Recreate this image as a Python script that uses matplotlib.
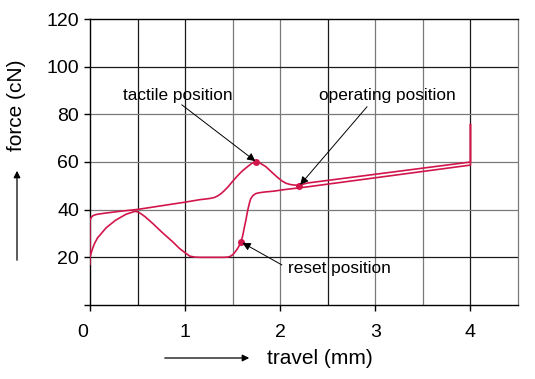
import matplotlib
matplotlib.use('Agg')
import matplotlib.pyplot as plt
from matplotlib.transforms import ScaledTranslation

plt.rcParams['font.family'] = ['Liberation Sans', 'DejaVu Sans']

# press stroke (upper curve), travel in mm / force in cN
press_x = [0.0, 0.0, 0.012, 0.028, 0.05, 0.08, 0.17, 0.31, 0.5, 1.007, 1.155, 1.2, 1.26,
           1.307, 1.34, 1.377, 1.41, 1.447, 1.5, 1.553, 1.6, 1.658, 1.7, 1.746, 1.79,
           1.85, 1.92, 1.97, 2.02, 2.06, 2.1, 2.15, 2.2, 2.29, 4.0, 4.0]
press_y = [17.0, 35.6, 36.7, 37.4, 37.8, 38.1, 38.6, 39.3, 40.1, 43.2, 44.2, 44.4, 44.7,
           45.1, 45.7, 46.7, 47.9, 49.4, 51.9, 54.3, 56.2, 58.1, 59.4, 60.0, 59.5,
           58.0, 55.4, 53.6, 52.0, 51.1, 50.6, 50.3, 50.3, 51.2, 60.0, 75.7]

# release stroke (lower curve)
release_x = [4.0, 4.0, 2.29, 2.02, 1.94, 1.833, 1.78, 1.746, 1.715, 1.69, 1.675, 1.658,
             1.64, 1.62, 1.605, 1.588, 1.57, 1.553, 1.525, 1.5, 1.475, 1.447, 1.40,
             1.155, 1.1, 1.05, 1.007, 0.94, 0.87, 0.76, 0.66, 0.58, 0.55, 0.52, 0.5,
             0.47, 0.45, 0.38, 0.27, 0.17, 0.08, 0.05, 0.028, 0.012, 0.0]
release_y = [75.7, 58.7, 49.6, 48.3, 47.8, 47.4, 47.1, 46.8, 46.0, 44.6, 42.6, 39.7,
             35.8, 32.0, 29.0, 26.5, 25.0, 23.75, 22.2, 21.1, 20.4, 20.1, 20.0,
             20.0, 20.1, 20.5, 21.7, 23.75, 26.5, 30.4, 34.2, 37.0, 37.9, 38.7, 39.1,
             39.3, 39.0, 38.1, 35.6, 32.4, 28.2, 26.0, 23.8, 21.8, 20.0]

# marked points
mark_names = ['tactile position', 'operating position', 'reset position']
mark_x = [1.75, 2.2, 1.59]
mark_y = [60.0, 50.0, 26.4]
text_x = [0.347, 2.41, 2.087]
text_y = [88.1, 87.7, 15.4]
arrow_x = [0.965, 2.913, 2.018]
arrow_y = [84.0, 83.2, 16.8]

xticks = [0, 1, 2, 3, 4]
yticks = [0, 20, 40, 60, 80, 100, 120]
ytick_labels = ['', '20', '40', '60', '80', '100', '120']
dark_vlines = [0.5, 1.0, 2.5, 4.0]
light_vlines = [1.5, 2.0, 3.0, 3.5]
dark_hlines = [20, 100]
light_hlines = [40, 60, 80]

red = '#d2164b'

fig = plt.figure(figsize=(5.35, 3.79), dpi=100)
ax = fig.add_axes([90 / 535, 1 - 305 / 379, 428 / 535, 286 / 379])

for v in dark_vlines:
    ax.axvline(v, color='#1a1a1a', lw=0.9, zorder=1)
for v in light_vlines:
    ax.axvline(v, color='#7a7a7a', lw=0.9, zorder=1)
for h in dark_hlines:
    ax.axhline(h, color='#1a1a1a', lw=0.9, zorder=1)
for h in light_hlines:
    ax.axhline(h, color='#7a7a7a', lw=0.9, zorder=1)

ax.plot(press_x, press_y, color=red, lw=1.2, zorder=3, solid_joinstyle='round')
ax.plot(release_x, release_y, color=red, lw=1.2, zorder=3, solid_joinstyle='round')
ax.plot(mark_x, mark_y, 'o', color=red, ms=4, zorder=4)

for name, mx, my, tx, ty, ax_, ay_ in zip(mark_names, mark_x, mark_y, text_x, text_y,
                                         arrow_x, arrow_y):
    ax.text(tx, ty, name, fontsize=12.4, ha='left', va='center', zorder=5)
    ax.annotate('', xy=(mx, my), xytext=(ax_, ay_),
                arrowprops=dict(arrowstyle='-|>', color='black', lw=0.7,
                                mutation_scale=12, shrinkA=0, shrinkB=1),
                zorder=5)

ax.set_xlim(0, 4.5)
ax.set_ylim(0, 120)
ax.set_xticks(xticks)
ax.set_yticks(yticks)
ax.set_yticklabels(ytick_labels)
ax.tick_params(axis='x', direction='out', length=4, width=1, pad=10, labelsize=14)
ax.tick_params(axis='y', direction='out', length=4, width=1, pad=4, labelsize=14)
# the "0" under the origin sits a little to the left in the original
lab0 = ax.get_xticklabels()[0]
lab0.set_transform(lab0.get_transform() + ScaledTranslation(-0.07, 0, fig.dpi_scale_trans))
for s in ['left', 'bottom', 'top']:
    ax.spines[s].set_color('black')
    ax.spines[s].set_linewidth(1)
ax.spines['right'].set_color('#7a7a7a')
ax.spines['right'].set_linewidth(0.9)

# axis labels with arrows, placed in figure pixels
fig.text(320 / 535, 1 - 358 / 379, 'travel (mm)', fontsize=15, ha='center', va='center')
fig.text(17 / 535, 1 - 105 / 379, 'force (cN)', fontsize=15, ha='center', va='center',
         rotation=90)
fig.patches.append(matplotlib.patches.FancyArrowPatch(
    (162 / 535, 1 - 358 / 379), (252 / 535, 1 - 358 / 379), transform=fig.transFigure,
    arrowstyle='-|>', mutation_scale=10, color='black', lw=0.9))
fig.patches.append(matplotlib.patches.FancyArrowPatch(
    (17 / 535, 1 - 263 / 379), (17 / 535, 1 - 168 / 379), transform=fig.transFigure,
    arrowstyle='-|>', mutation_scale=10, color='black', lw=0.9))

fig.savefig('out.png', dpi=100)
